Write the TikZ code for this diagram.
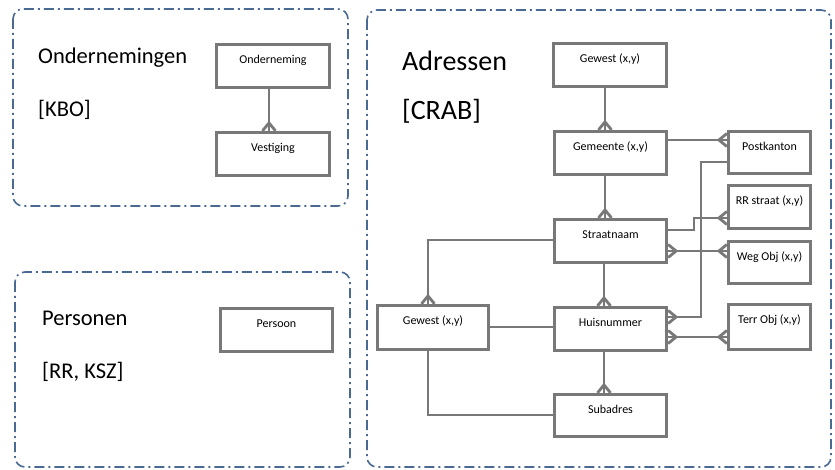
\documentclass[tikz,border=0pt]{standalone}
\usepackage{fontspec}
\setmainfont{Carlito}
\usetikzlibrary{arrows.meta}
\definecolor{panelblue}{HTML}{4B6A93}
\definecolor{boxgray}{HTML}{787878}
\pgfdeclarearrow{
  name=crow,
  parameters={},
  setup code={
    \pgfarrowssettipend{0pt}
    \pgfarrowssetlineend{0pt}
    \pgfarrowssetbackend{-8pt}
    \pgfarrowssetvisualbackend{-8pt}
    \pgfarrowshullpoint{0pt}{6.5pt}
    \pgfarrowshullpoint{0pt}{-6.5pt}
    \pgfarrowshullpoint{-8pt}{0pt}
  },
  drawing code={
    \pgfpathmoveto{\pgfqpoint{0pt}{6.5pt}}
    \pgfpathlineto{\pgfqpoint{-8pt}{0pt}}
    \pgfpathlineto{\pgfqpoint{0pt}{-6.5pt}}
    \pgfusepathqstroke
  }
}
\tikzset{
  panel/.style={draw=panelblue, line width=1.6pt, rounded corners=10pt,
    dash pattern=on 10pt off 4pt on 2pt off 4pt},
  ent/.style={draw=boxgray, line width=3.2pt, fill=white, inner sep=0pt,
    minimum width=112pt, minimum height=43pt},
  side/.style={ent, minimum width=82pt},
  lab/.style={anchor=base, yshift=-20.5pt, inner sep=0pt, label distance=0pt,
    font=\fontsize{12}{14}\selectfont, text=black},
  conn/.style={draw=boxgray, line width=2.8pt},
  big/.style={anchor=base west, inner sep=0pt, font=\fontsize{22.5}{26}\selectfont},
  huge/.style={anchor=base west, inner sep=0pt, font=\fontsize{28}{32}\selectfont}
}
\begin{document}
\begin{tikzpicture}[x=1pt,y=-1pt]
\useasboundingbox (0,0) rectangle (835,470);
% panels
\draw[panel] (13,9) rectangle (348,206);
\draw[panel] (15,272) rectangle (350,467);
\draw[panel] (367,10) rectangle (831,467);
% titles
\node[big] (t1) at (38,64) {Ondernemingen};
\node[big] (t1b) at (38,117) {[KBO]};
\node[big] (t2) at (42,325) {Personen};
\node[big] (t2b) at (42,378) {[RR, KSZ]};
\node[huge] (t3) at (402,71) {Adressen};
\node[huge] (t3b) at (402,120) {[CRAB]};
% entity boxes
\node[ent, minimum width=113pt, label={[lab]north:Onderneming}] (ond) at (273,66) {};
\node[ent, minimum width=113pt, label={[lab]north:Vestiging}] (ves) at (273,154) {};
\node[ent, label={[lab]north:Persoon}] (per) at (276.5,330) {};
\node[ent, minimum width=113pt, label={[lab]north:Gewest (x,y)}] (gw1) at (610,65) {};
\node[ent, label={[lab]north:Gemeente (x,y)}] (gem) at (610.5,153) {};
\node[ent, label={[lab]north:Straatnaam}] (str) at (610.5,241) {};
\node[ent, label={[lab]north:Huisnummer}] (huis) at (610.5,329) {};
\node[ent, minimum height=42pt, label={[lab]north:Subadres}] (sub) at (610.5,415.5) {};
\node[ent, minimum width=111pt, minimum height=44pt, label={[lab]north:Gewest (x,y)}] (gw2) at (433,327.5) {};
\node[side, minimum height=42pt, label={[lab]north:Postkanton}] (post) at (769.5,152.5) {};
\node[side, label={[lab]north:RR straat (x,y)}] (rrs) at (769.5,207) {};
\node[side, minimum height=42pt, label={[lab]north:Weg Obj (x,y)}] (weg) at (769.5,262.5) {};
\node[side, minimum height=45pt, label={[lab]north:Terr Obj (x,y)}] (terr) at (769.5,327) {};
% helper coordinates
\coordinate (X269) at (269,0);
\coordinate (X605) at (605,0);
\coordinate (X604) at (604,0);
\coordinate (X694) at (694,0);
\coordinate (X701) at (701,0);
\coordinate (X428) at (428,0);
\coordinate (Y140) at (0,140);
\coordinate (Y162) at (0,162);
\coordinate (Y218) at (0,218);
\coordinate (Y230) at (0,230);
\coordinate (Y240) at (0,240);
\coordinate (Y251) at (0,251);
\coordinate (Y317) at (0,317);
\coordinate (Y327) at (0,327);
\coordinate (Y337) at (0,337);
\coordinate (Y415) at (0,415);
% connectors
\draw[conn,-crow] (ond.south -| X269) -- (ves.north -| X269);
\draw[conn,-crow] (gw1.south -| X605) -- (gem.north -| X605);
\draw[conn,-crow] (gem.east |- Y140) -- (post.west |- Y140);
\draw[conn,-crow] (gem.south -| X605) -- (str.north -| X605);
\draw[conn,-crow] (str.east |- Y230) -- (X694 |- Y230) -- (X694 |- Y218) -- (rrs.west |- Y218);
\draw[conn,crow-crow] (str.east |- Y251) -- (weg.west |- Y251);
\draw[conn,crow-] (huis.east |- Y317) -- (X701 |- Y317) -- (X701 |- Y162) -- (post.west |- Y162);
\draw[conn,crow-crow] (huis.east |- Y337) -- (terr.west |- Y337);
\draw[conn,-crow] (str.west |- Y240) -- (X428 |- Y240) -- (gw2.north -| X428);
\draw[conn] (gw2.east |- Y327) -- (huis.west |- Y327);
\draw[conn,-crow] (str.south -| X604) -- (huis.north -| X604);
\draw[conn,-crow] (huis.south -| X604) -- (sub.north -| X604);
\draw[conn] (gw2.south -| X428) -- (X428 |- Y415) -- (sub.west |- Y415);
\end{tikzpicture}
\end{document}
